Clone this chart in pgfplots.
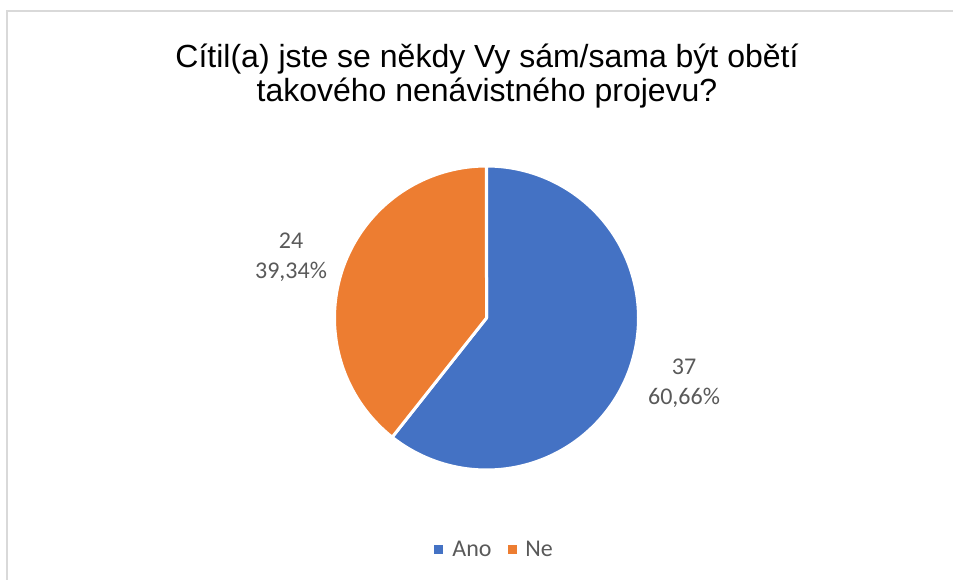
\documentclass[border=0pt]{standalone}
\usepackage{pgfplots}
\pgfplotsset{compat=1.18}
\usepackage{fontspec}
\setmainfont{Liberation Sans}
\newfontfamily\carlito{Carlito}
\definecolor{pieblue}{HTML}{4472C4}
\definecolor{pieorange}{HTML}{ED7D31}
\definecolor{txtgray}{HTML}{595959}
\definecolor{framegray}{HTML}{D9D9D9}
% data
\def\vAno{37}
\def\vNe{24}
\pgfmathsetmacro{\total}{\vAno+\vNe}
\pgfmathsetmacro{\aEnd}{90-360*\vAno/\total}
\pgfmathsetmacro{\bEnd}{\aEnd-360*\vNe/\total}
\def\cx{486.5}
\def\cy{261}
\def\rr{152}
\begin{document}
\begin{tikzpicture}
\begin{axis}[name=ax,
  scale only axis, width=476.5pt, height=289.5pt,
  xmin=0, xmax=953, ymin=0, ymax=579,
  hide axis, clip=false]
% frame
\draw[framegray, line width=1pt] (axis cs:6.5,-5) -- (axis cs:6.5,567.5) -- (axis cs:960,567.5);
% slices
\addplot[fill=pieblue, draw=white, line width=1.5pt, line join=round, domain=90:\aEnd, samples=120, variable=\t]
  ({\cx+\rr*cos(\t)},{\cy+\rr*sin(\t)}) -- (axis cs:\cx,\cy) -- cycle;
\addplot[fill=pieorange, draw=white, line width=1.5pt, line join=round, domain=\aEnd:\bEnd, samples=80, variable=\t]
  ({\cx+\rr*cos(\t)},{\cy+\rr*sin(\t)}) -- (axis cs:\cx,\cy) -- cycle;
% title
\node[font=\fontsize{16}{18}\selectfont, text=black] at (axis cs:487,519.5) {Cítil(a) jste se někdy Vy sám/sama být obětí};
\node[font=\fontsize{16}{18}\selectfont, text=black] at (axis cs:487,485.5) {takového nenávistného projevu?};
% data labels
\node[font=\carlito\fontsize{12}{15}\selectfont, text=txtgray, align=center] at (axis cs:684,196) {37\\60,66\%};
\node[font=\carlito\fontsize{12}{15}\selectfont, text=txtgray, align=center] at (axis cs:291,322) {24\\39,34\%};
% legend
\fill[pieblue] (axis cs:434,25.5) rectangle (axis cs:443,34.5);
\node[font=\carlito\fontsize{12}{14}\selectfont, text=txtgray, anchor=west, inner sep=0pt] at (axis cs:452,30) {Ano};
\fill[pieorange] (axis cs:508,25.5) rectangle (axis cs:517,34.5);
\node[font=\carlito\fontsize{12}{14}\selectfont, text=txtgray, anchor=west, inner sep=0pt] at (axis cs:525,30) {Ne};
\end{axis}
\pgfresetboundingbox
\path (ax.south west) rectangle (ax.north east);
\end{tikzpicture}
\end{document}
